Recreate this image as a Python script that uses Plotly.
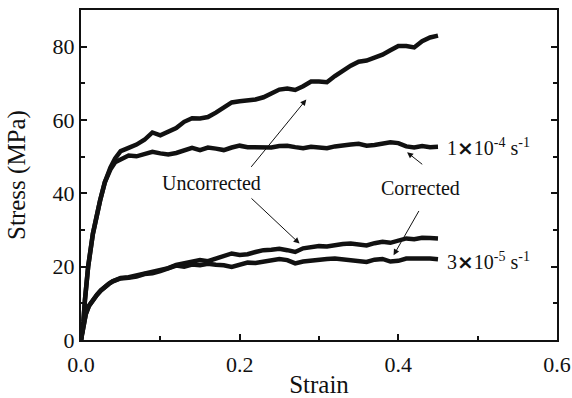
import plotly.graph_objects as go

# Stress-strain data (strain, stress in MPa)
strain_hi_unc = [0, 0.003, 0.005, 0.009, 0.015, 0.02, 0.024, 0.03, 0.037, 0.043,
                 0.05, 0.06, 0.07, 0.08, 0.09, 0.10, 0.11, 0.12, 0.13, 0.14,
                 0.15, 0.16, 0.17, 0.18, 0.19, 0.20, 0.21, 0.22, 0.23, 0.24,
                 0.25, 0.26, 0.27, 0.28, 0.29, 0.30, 0.31, 0.32, 0.33, 0.34,
                 0.35, 0.36, 0.37, 0.38, 0.39, 0.40, 0.41, 0.42, 0.43, 0.44, 0.45]
stress_hi_unc = [0, 5, 11, 20, 29, 34.5, 38, 43, 47, 49.5,
                 51.5, 52.4, 53.3, 54.6, 56.6, 55.8, 56.9, 57.8, 59.5, 60.5,
                 60.4, 60.8, 62.0, 63.5, 64.8, 65.1, 65.3, 65.6, 66.2, 67.3,
                 68.3, 68.6, 68.2, 69.2, 70.5, 70.5, 70.3, 72.0, 73.5, 74.8,
                 75.9, 76.2, 77.0, 77.8, 79.0, 80.2, 80.2, 79.8, 81.5, 82.5, 83.0]

strain_hi_cor = [0, 0.003, 0.005, 0.009, 0.015, 0.02, 0.024, 0.03, 0.037, 0.043,
                 0.05, 0.06, 0.07, 0.08, 0.09, 0.10, 0.11, 0.12, 0.13, 0.14,
                 0.15, 0.16, 0.17, 0.18, 0.19, 0.20, 0.21, 0.22, 0.23, 0.24,
                 0.25, 0.26, 0.27, 0.28, 0.29, 0.30, 0.31, 0.32, 0.33, 0.34,
                 0.35, 0.36, 0.37, 0.38, 0.39, 0.40, 0.41, 0.42, 0.43, 0.44, 0.45]
stress_hi_cor = [0, 5, 11, 20, 29, 34.5, 38, 43, 46.5, 48.5,
                 49.3, 50.3, 50.1, 50.6, 51.3, 50.9, 50.6, 51.0, 51.8, 52.4,
                 51.8, 52.5, 52.2, 51.8, 52.5, 53.0, 52.6, 52.5, 52.7, 52.5,
                 52.9, 53.0, 52.6, 52.3, 52.7, 52.5, 52.3, 52.8, 53.2, 53.3,
                 53.5, 53.0, 53.2, 53.4, 53.9, 53.7, 52.8, 52.5, 52.9, 52.6, 52.7]

strain_lo_unc = [0, 0.003, 0.006, 0.01, 0.015, 0.02, 0.025, 0.03, 0.035, 0.04,
                 0.045, 0.05, 0.06, 0.07, 0.08, 0.09, 0.10, 0.11, 0.12, 0.13,
                 0.14, 0.15, 0.16, 0.17, 0.18, 0.19, 0.20, 0.21, 0.22, 0.23,
                 0.24, 0.25, 0.26, 0.27, 0.28, 0.29, 0.30, 0.31, 0.32, 0.33,
                 0.34, 0.35, 0.36, 0.37, 0.38, 0.39, 0.40, 0.41, 0.42, 0.43,
                 0.44, 0.45]
stress_lo_unc = [0, 4, 7, 9.3, 11, 12.3, 13.5, 14.5, 15.3, 16.0,
                 16.6, 16.9, 17.1, 17.6, 17.8, 18.3, 19.0, 19.6, 20.5, 21.0,
                 21.2, 21.8, 21.5, 22.3, 22.8, 23.6, 23.2, 23.4, 24.0, 24.5,
                 24.6, 24.9, 24.5, 24.0, 25.0, 25.4, 25.6, 25.5, 25.9, 26.2,
                 26.3, 25.9, 25.8, 26.4, 26.8, 26.5, 27.1, 27.7, 27.5, 27.9,
                 27.8, 27.7]

strain_lo_cor = [0, 0.003, 0.006, 0.01, 0.015, 0.02, 0.025, 0.03, 0.035, 0.04,
                 0.045, 0.05, 0.06, 0.07, 0.08, 0.09, 0.10, 0.11, 0.12, 0.13,
                 0.14, 0.15, 0.16, 0.17, 0.18, 0.19, 0.20, 0.21, 0.22, 0.23,
                 0.24, 0.25, 0.26, 0.27, 0.28, 0.29, 0.30, 0.31, 0.32, 0.33,
                 0.34, 0.35, 0.36, 0.37, 0.38, 0.39, 0.40, 0.41, 0.42, 0.43,
                 0.44, 0.45]
stress_lo_cor = [0, 4, 7, 9.3, 11, 12.3, 13.5, 14.5, 15.3, 16.0,
                 16.5, 16.8, 17.0, 17.3, 18.0, 18.2, 18.8, 19.5, 20.3, 20.0,
                 20.6, 20.4, 20.8, 20.5, 20.4, 19.95, 20.6, 21.1, 21.0, 21.3,
                 21.6, 22.1, 21.8, 20.9, 21.4, 21.7, 21.9, 22.1, 22.2, 21.9,
                 21.6, 21.4, 21.3, 21.9, 22.1, 21.4, 21.6, 22.2, 22.3, 22.4,
                 22.2, 22.0]

x_ticks = [0.0, 0.2, 0.4, 0.6]
x_tick_labels = ["0.0", "0.2", "0.4", "0.6"]
y_ticks = [0, 20, 40, 60, 80]
y_tick_labels = ["0", "20", "40", "60", "80"]

SERIF = "Liberation Serif"
INK = "#111111"

fig = go.Figure()
for xs, ys in [(strain_hi_unc, stress_hi_unc), (strain_hi_cor, stress_hi_cor),
               (strain_lo_unc, stress_lo_unc), (strain_lo_cor, stress_lo_cor)]:
    fig.add_trace(go.Scatter(x=xs, y=ys, mode="lines",
                             line=dict(color=INK, width=4.5),
                             showlegend=False, hoverinfo="skip"))

times = "<span style='font-family:DejaVu Sans'><b>\u00d7</b></span>"
texts = [
    dict(x=0.165, y=42.7, text="Uncorrected", xanchor="center"),
    dict(x=0.428, y=41.4, text="Corrected", xanchor="center"),
    dict(x=0.459, y=52.6, text="1" + times + "10<sup>-4</sup> s<sup>-1</sup>", xanchor="left"),
    dict(x=0.459, y=21.3, text="3" + times + "10<sup>-5</sup> s<sup>-1</sup>", xanchor="left"),
]
for t in texts:
    fig.add_annotation(x=t["x"], y=t["y"], text=t["text"], xanchor=t["xanchor"],
                       yanchor="middle", showarrow=False,
                       font=dict(family=SERIF, size=20, color=INK))

# arrows: (tail x, tail y, head x, head y)
arrows = [
    (0.213, 46.8, 0.284, 65.6),
    (0.213, 39.0, 0.2755, 26.3),
    (0.432, 47.6, 0.411, 51.2),
    (0.427, 35.6, 0.394, 23.1),
]
for tx, ty, hx, hy in arrows:
    fig.add_annotation(x=hx, y=hy, ax=tx, ay=ty, xref="x", yref="y",
                       axref="x", ayref="y", text="", showarrow=True,
                       arrowhead=2, arrowsize=1.2, arrowwidth=1, arrowcolor=INK)

fig.update_layout(
    width=572, height=398,
    margin=dict(l=81, r=15, t=10, b=58),
    paper_bgcolor="white", plot_bgcolor="white",
    font=dict(family=SERIF, color=INK),
)
fig.update_xaxes(
    range=[0, 0.6], tickvals=x_ticks, ticktext=x_tick_labels,
    ticks="inside", ticklen=6, tickwidth=2, tickcolor=INK,
    minor=dict(dtick=0.1, tick0=0, ticks="inside", ticklen=4, tickwidth=2, tickcolor=INK),
    showline=True, linewidth=2, linecolor=INK, mirror=True,
    showgrid=False, zeroline=False, ticklabelstandoff=4, automargin=False,
    tickfont=dict(family=SERIF, size=22, color=INK),
    title=dict(text="Strain", font=dict(family=SERIF, size=25, color=INK), standoff=12),
)
fig.update_yaxes(
    range=[0, 90], tickvals=y_ticks, ticktext=y_tick_labels,
    ticks="inside", ticklen=6, tickwidth=2, tickcolor=INK,
    minor=dict(dtick=10, tick0=0, ticks="inside", ticklen=4, tickwidth=2, tickcolor=INK),
    showline=True, linewidth=2, linecolor=INK, mirror="ticks",
    showgrid=False, zeroline=False, automargin=False,
    tickfont=dict(family=SERIF, size=22, color=INK),
    title=dict(text="Stress (MPa)", font=dict(family=SERIF, size=25, color=INK), standoff=20),
)

fig.write_html("out.html")
